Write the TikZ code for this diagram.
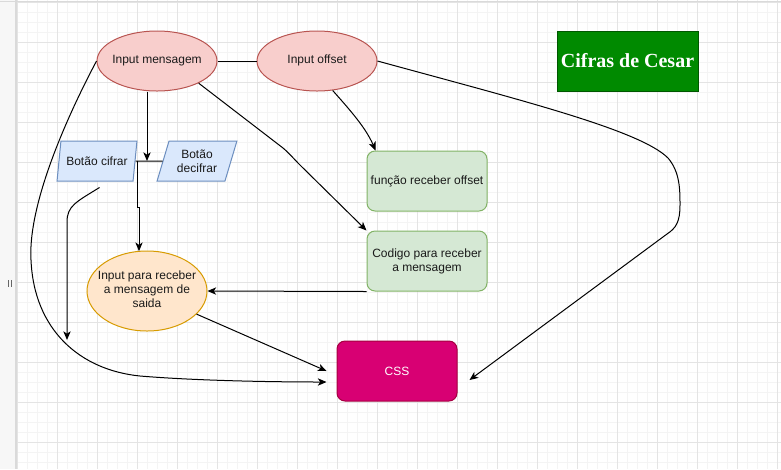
\documentclass[tikz,border=0pt]{standalone}
\usepackage{fontspec}
\setmainfont{Liberation Sans}
\newfontfamily\titleserif{Liberation Serif}
\usetikzlibrary{shapes.geometric,arrows.meta,calc}
\definecolor{gridmaj}{HTML}{E4E4E4}
\definecolor{gridmin}{HTML}{F4F4F4}
\definecolor{panelfill}{HTML}{F7F7F7}
\definecolor{panelline}{HTML}{DADADA}
\definecolor{redfill}{HTML}{F8CECC}
\definecolor{redline}{HTML}{B85450}
\definecolor{bluefill}{HTML}{DAE8FC}
\definecolor{blueline}{HTML}{6C8EBF}
\definecolor{greenfill}{HTML}{D5E8D4}
\definecolor{greenline}{HTML}{82B366}
\definecolor{orfill}{HTML}{FFE6CC}
\definecolor{orline}{HTML}{D79B00}
\definecolor{cssfill}{HTML}{D80073}
\definecolor{cssline}{HTML}{A50040}
\definecolor{titlefill}{HTML}{008A00}
\definecolor{titleline}{HTML}{005700}
\definecolor{txt}{HTML}{1A1A1A}
\newcommand\ellText[1]{\makebox[0pt]{\begin{tabular}{@{}c@{}}#1\end{tabular}}}
\begin{document}
\begin{tikzpicture}[x=0.75pt,y=-0.75pt,
  every node/.style={font=\fontsize{9}{10.5}\selectfont, text=txt, align=center, inner sep=0pt},
  redell/.style={ellipse, minimum width=90pt, minimum height=45pt, fill=redfill, draw=redline, line width=0.75pt},
  orell/.style={ellipse, minimum width=90pt, minimum height=60pt, fill=orfill, draw=orline, line width=0.75pt},
  para/.style={trapezium, trapezium left angle=69.4, trapezium right angle=110.6, trapezium stretches=true, minimum width=60pt, minimum height=30pt, fill=bluefill, draw=blueline, line width=0.75pt},
  greenbox/.style={rectangle, rounded corners=6pt, minimum width=90pt, minimum height=45pt, fill=greenfill, draw=greenline, line width=0.75pt},
  cssbox/.style={rectangle, rounded corners=6pt, minimum width=90pt, minimum height=45pt, fill=cssfill, draw=cssline, line width=0.75pt, text=white},
  titlebox/.style={rectangle, minimum width=105.75pt, minimum height=45pt, fill=titlefill, draw=titleline, line width=0.75pt, text=white, font=\titleserif\bfseries\fontsize{15}{18}\selectfont},
  conn/.style={line width=0.75pt, draw=black},
  arr/.style={conn, -{Stealth[length=6.5pt,width=5.5pt,inset=1.8pt]}}
]
\useasboundingbox (0,0) rectangle (781,469);
\fill[white] (0,0) rectangle (781,469);
% grid
\foreach \gx in {17,27,...,781} \draw[gridmin, line width=0.75pt] (\gx,0) -- (\gx,469);
\foreach \gy in {2,12,...,469} \draw[gridmin, line width=0.75pt] (16,\gy) -- (781,\gy);
\foreach \gx in {17,57,...,781} \draw[gridmaj, line width=0.75pt] (\gx,0) -- (\gx,469);
\foreach \gy in {2,42,...,469} \draw[gridmaj, line width=0.75pt] (16,\gy) -- (781,\gy);
% left panel
\fill[panelfill] (0,0) rectangle (16,469);
\draw[panelline, line width=1.2pt] (16,0) -- (16,469);
\draw[panelline, line width=0.75pt] (0,1) -- (781,1);
\draw[black!60, line width=0.6pt] (8.5,280) -- (8.5,287) (11,280) -- (11,287);

% nodes
\node[redell] (im) at (157,61) {\ellText{Input mensagem}};
\node[redell] (io) at (317,61) {\ellText{Input offset}};
\node[titlebox] (cc) at (627.5,61) {Cifras de Cesar};
\node[para] (bc) at (97,161) {Botão cifrar};
\node[para] (bd) at (197,161) {Botão\\decifrar};
\node[greenbox] (fo) at (427,181) {função receber offset};
\node[greenbox] (cm) at (427,261) {Codigo para receber\\a mensagem};
\node[orell] (sa) at (147,291) {\ellText{Input para receber\\a mensagem de\\saida}};
\node[cssbox] (css) at (397,371) {CSS};

% junction / free-end coordinates
\coordinate (ja) at (147,161);
\coordinate (jb) at (137,161);
\coordinate (f1) at (67,340);
\coordinate (f2) at ($(css.west)+(-10,11)$);
\coordinate (f3) at ($(css.west)+(-10,0)$);
\coordinate (f4) at ($(css.east)+(12,9)$);

% connectors
\draw[conn] (im.east) -- (io.west);
\draw[arr] ($(im.south)+(-10,0)$) -- (ja);
\draw[conn] (bc.east) -- (bd.west);
\draw[arr] (jb) -- (137,207) -- (139,207) -- ($(sa.north)+(-8,0.6)$);
\draw[arr] ($(bc.south)+(2.5,6)$) .. controls (76,202) and (67,206) .. (67,222) -- (f1);
\draw[arr] (im.west) .. controls (60,130) and (28,210) .. (31,260)
  .. controls (34,330) and (80,370) .. (140,376)
  .. controls (200,381) and (280,382) .. (f2);
\draw[arr] (im.-28) -- (283,148) .. controls (290,154) and (293,158) .. (300,165) -- (cm.north west);
\draw[arr] (io.-62) .. controls (350,110) and (366,128) .. ($(fo.north west)+(9,0)$);
\draw[arr] (io.east) .. controls (520,100) and (640,130) .. (668,158)
  .. controls (680,172) and (680,190) .. (680,205)
  .. controls (680,222) and (676,228) .. (667,234) -- (f4);
\draw[arr] (cm.south west) -- (sa.east);
\draw[arr] (sa.-25) -- (f3);
\end{tikzpicture}
\end{document}
